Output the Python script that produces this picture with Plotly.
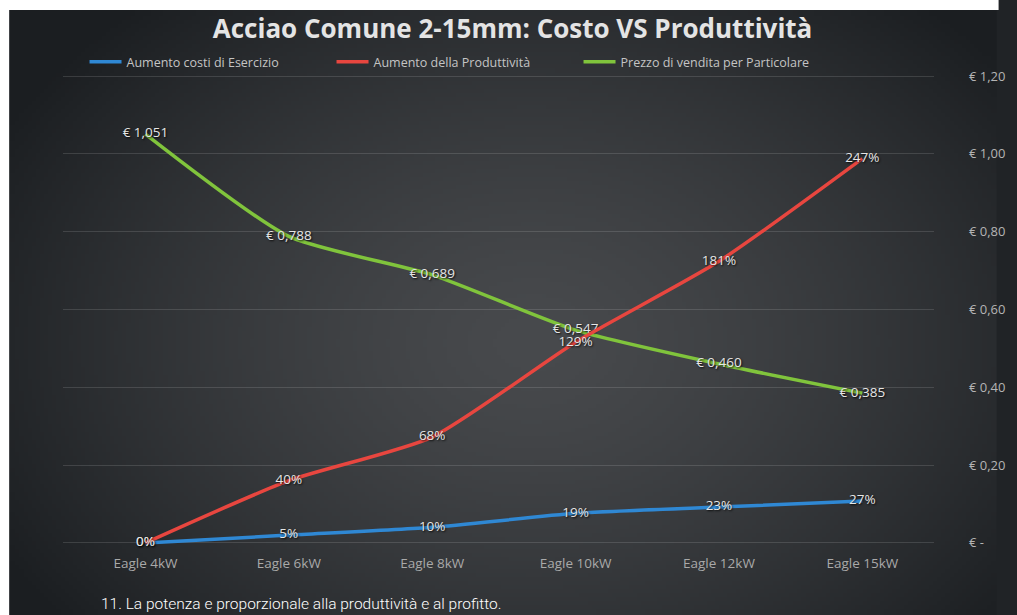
import base64
import struct
import zlib

import numpy as np
import plotly.graph_objects as go

# ---- data ----
categories = ["Eagle 4kW", "Eagle 6kW", "Eagle 8kW", "Eagle 10kW", "Eagle 12kW", "Eagle 15kW"]
costi_esercizio_pct = [0, 5, 10, 19, 23, 27]
produttivita_pct = [0, 40, 68, 129, 181, 247]
prezzo_particolare = [1.051, 0.788, 0.689, 0.547, 0.460, 0.385]

euro_tick_vals = [0, 0.2, 0.4, 0.6, 0.8, 1.0, 1.2]
euro_tick_text = ["€ -", "€ 0,20", "€ 0,40", "€ 0,60", "€ 0,80", "€ 1,00", "€ 1,20"]

series_names = ["Aumento costi di Esercizio", "Aumento della Produttività", "Prezzo di vendita per Particolare"]
series_colors = ["#2f88d4", "#e8463f", "#80c43c"]

title_text = "Acciao Comune 2-15mm: Costo VS Produttività"
caption_text = "11. La potenza e proporzionale alla produttività e al profitto."

# ---- figure geometry (pixels) ----
W, H = 1017, 615
ML, MR, MT, MB = 63, 64, 73, 69
PW, PH = W - ML - MR, H - MT - MB
EPS = 0.008  # € padding so the gridlines at € - and € 1,20 are kept
PANEL_LEFT, PANEL_TOP = 8, 10  # white frame around the dark panel


def px_to_paper_x(px):
    return (px - ML) / PW


def px_to_paper_y(py):
    return (H - MB - py) / PH


# ---- dark radial gradient panel, encoded as a small PNG ----
def gradient_png(w=240, h=150):
    ys, xs = np.mgrid[0:h, 0:w]
    u = (xs / (w - 1) - 0.53) / 0.62
    v = (ys / (h - 1) - 0.55) / 0.75
    d = np.clip(np.sqrt(u * u + v * v), 0, 1) ** 1.4
    inner = np.array([72, 74, 77], dtype=float)
    outer = np.array([27, 30, 33], dtype=float)
    img = inner[None, None, :] + (outer - inner)[None, None, :] * d[..., None]
    img = img.astype(np.uint8)
    raw = b"".join(b"\x00" + img[r].tobytes() for r in range(h))

    def chunk(tag, data):
        c = struct.pack(">I", len(data)) + tag + data
        return c + struct.pack(">I", zlib.crc32(tag + data) & 0xFFFFFFFF)

    png = b"\x89PNG\r\n\x1a\n"
    png += chunk(b"IHDR", struct.pack(">IIBBBBB", w, h, 8, 2, 0, 0, 0))
    png += chunk(b"IDAT", zlib.compress(raw, 9))
    png += chunk(b"IEND", b"")
    return "data:image/png;base64," + base64.b64encode(png).decode()


label_font = dict(family="Open Sans", size=13.5, color="#e6e6e6",
                  shadow="1px 1px 2px rgba(0,0,0,0.9)")

fig = go.Figure()

fig.add_trace(go.Scatter(
    x=categories, y=[v / 100 for v in costi_esercizio_pct], yaxis="y2",
    name=series_names[0], mode="lines+text",
    line=dict(color=series_colors[0], width=3.5, shape="spline", smoothing=0.6),
    text=[f"{v}%" for v in costi_esercizio_pct], textposition="middle center",
    textfont=label_font, cliponaxis=False,
))
fig.add_trace(go.Scatter(
    x=categories, y=[v / 100 for v in produttivita_pct], yaxis="y2",
    name=series_names[1], mode="lines+text",
    line=dict(color=series_colors[1], width=3.5, shape="spline", smoothing=0.6),
    text=[f"{v}%" for v in produttivita_pct], textposition="middle center",
    textfont=label_font, cliponaxis=False,
))
fig.add_trace(go.Scatter(
    x=categories, y=prezzo_particolare, yaxis="y",
    name=series_names[2], mode="lines+text",
    line=dict(color=series_colors[2], width=3.5, shape="spline", smoothing=0.6),
    text=["€ " + f"{v:.3f}".replace(".", ",") for v in prezzo_particolare],
    textposition="middle center", textfont=label_font, cliponaxis=False,
))

# white frame strips along the top and left edges
frame_shapes = [
    dict(type="rect", xref="paper", yref="paper", layer="below",
         x0=px_to_paper_x(-2), x1=px_to_paper_x(W + 2),
         y0=px_to_paper_y(PANEL_TOP), y1=px_to_paper_y(-2),
         fillcolor="#ffffff", line=dict(width=0)),
    dict(type="rect", xref="paper", yref="paper", layer="below",
         x0=px_to_paper_x(-2), x1=px_to_paper_x(PANEL_LEFT),
         y0=px_to_paper_y(H + 2), y1=px_to_paper_y(-2),
         fillcolor="#ffffff", line=dict(width=0)),
]

fig.update_layout(
    width=W, height=H,
    margin=dict(l=ML, r=MR, t=MT, b=MB),
    paper_bgcolor="#202326",
    plot_bgcolor="rgba(0,0,0,0)",
    title=dict(text=f"<b>{title_text}</b>", x=0.504, xanchor="center",
               y=1 - 29 / H, yanchor="middle", yref="container",
               font=dict(family="Open Sans", size=26, color="#e4e4e4")),
    legend=dict(orientation="h", x=px_to_paper_x(85), xanchor="left",
                y=px_to_paper_y(62), yanchor="middle",
                font=dict(family="Open Sans", size=12.5, color="#c4c4c4"),
                bgcolor="rgba(0,0,0,0)", entrywidth=200, entrywidthmode="pixels",
                traceorder="normal", itemwidth=32),
    xaxis=dict(type="category", range=[-0.575, 5.5], showgrid=False, zeroline=False,
               showline=False, ticks="", ticklabelstandoff=7,
               tickfont=dict(family="Open Sans", size=13.5, color="#a9a9a9")),
    yaxis=dict(range=[-EPS, 1.2 + EPS], side="right", tickvals=euro_tick_vals,
               ticktext=euro_tick_text,
               showgrid=True, gridcolor="rgba(255,255,255,0.13)", gridwidth=1,
               zeroline=False, showline=False, ticks="", ticklabelstandoff=34,
               tickfont=dict(family="Open Sans", size=13, color="#b4b4b4")),
    yaxis2=dict(range=[-EPS * 2.5, 3.0 + EPS * 2.5], overlaying="y", side="left",
                visible=False, showgrid=False),
    images=[dict(source=gradient_png(), xref="paper", yref="paper",
                 x=px_to_paper_x(PANEL_LEFT), y=px_to_paper_y(PANEL_TOP),
                 sizex=(W - PANEL_LEFT) / PW, sizey=(H - PANEL_TOP) / PH,
                 xanchor="left", yanchor="top", sizing="stretch", layer="below")],
    shapes=frame_shapes,
    annotations=[dict(text=caption_text, xref="paper", yref="paper",
                      x=px_to_paper_x(100), y=px_to_paper_y(604),
                      xanchor="left", yanchor="middle", showarrow=False,
                      font=dict(family="Roboto", size=15.5, color="#ffffff", weight=300))],
)

fig.write_html("out.html")
